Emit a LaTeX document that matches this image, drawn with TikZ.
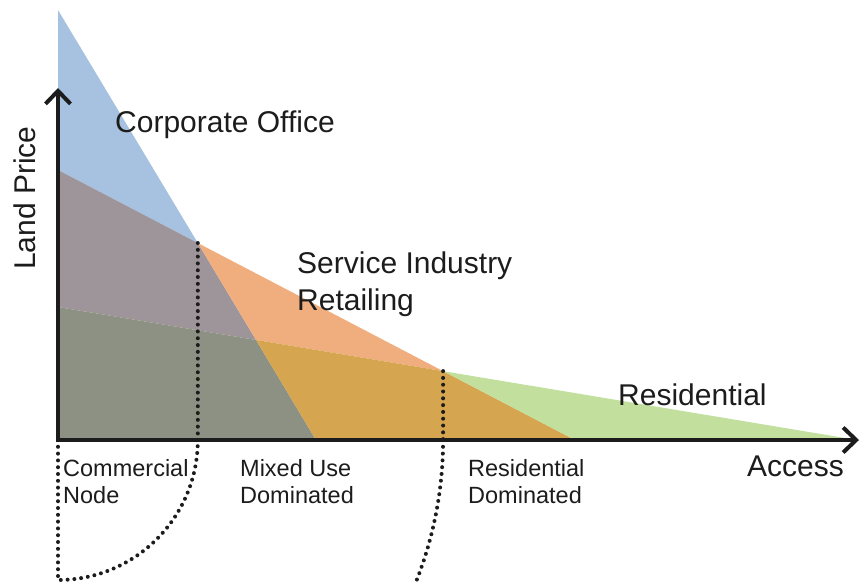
\documentclass[tikz,border=0pt]{standalone}
\usepackage{fontspec}
\setmainfont{Liberation Sans}
\usetikzlibrary{arrows.meta}

% fill colours of the three bid-rent curves and of their overlaps
\definecolor{office}{HTML}{A7C1E1}
\definecolor{service}{HTML}{F0AE7E}
\definecolor{resid}{HTML}{C3DF9D}
\definecolor{officeservice}{HTML}{9D9599}
\definecolor{serviceresid}{HTML}{D5A54F}
\definecolor{allthree}{HTML}{8D9183}
\definecolor{ink}{HTML}{1C1C1C}

\begin{document}
\begin{tikzpicture}[x=1pt, y=-1pt,
  axis/.style={draw=ink, line width=4pt, line join=miter,
    {Straight Barb[length=13pt,width=25pt]}-{Straight Barb[length=13pt,width=25pt]}},
  dots/.style={draw=ink, line width=4pt, line cap=round, dash pattern=on 0pt off 6.8pt},
  biglabel/.style={inner sep=0pt, anchor=base west, text=ink, font=\fontsize{30}{36}\selectfont},
  smalllabel/.style={inner sep=0pt, anchor=base west, text=ink, font=\fontsize{23.5}{27}\selectfont}]

\useasboundingbox (0,0) rectangle (861,584);

% origin, axis tips and the ends of the three curves
\coordinate (origin) at (58,440);
\coordinate (ytip) at (58,88);
\coordinate (xtip) at (859,440);
\coordinate (office top) at (58,10);
\coordinate (office foot) at (316,440);
\coordinate (service top) at (58,170);
\coordinate (service foot) at (575,440);
\coordinate (resid top) at (58,307);
\coordinate (resid foot) at (857,440);

% crossing points of the curves
\coordinate (p1) at (intersection of office top--office foot and service top--service foot);
\coordinate (p2) at (intersection of service top--service foot and resid top--resid foot);
\coordinate (q) at (intersection of office top--office foot and resid top--resid foot);

% regions between the curves
\fill[office] (office top) -- (p1) -- (service top) -- cycle;
\fill[officeservice] (service top) -- (p1) -- (q) -- (resid top) -- cycle;
\fill[allthree] (resid top) -- (q) -- (office foot) -- (origin) -- cycle;
\fill[service] (p1) -- (p2) -- (q) -- cycle;
\fill[serviceresid] (q) -- (p2) -- (service foot) -- (office foot) -- cycle;
\fill[resid] (p2) -- (resid foot) -- (service foot) -- cycle;

% zone boundaries
\coordinate (b1) at (p1 |- origin);
\coordinate (b2) at (p2 |- origin);
\coordinate (c1) at (58,580);
\draw[dots] (p1) -- (b1);
\draw[dots] (p2) -- (b2);
\draw[dots] (origin) -- (c1) arc[start angle=90, end angle=0, radius=139.8];
\draw[dots] (b2) arc[start angle=0, end angle=22, radius=385];

% axes
\draw[axis] (ytip) -- (origin) -- (xtip);

% labels
\node[biglabel] (corp) at (115,132) {Corporate Office};
\node[biglabel] (serv1) at (297,273) {Service Industry};
\node[biglabel] (serv2) at (297,310) {Retailing};
\node[biglabel] (res) at (618,405) {Residential};
\node[biglabel] (access) at (747,476) {Access};
\node[biglabel, anchor=base, rotate=90] (price) at (35,198) {Land Price};

\node[smalllabel] (cn1) at (63,476) {Commercial};
\node[smalllabel] (cn2) at (63,503) {Node};
\node[smalllabel] (mu1) at (240,476) {Mixed Use};
\node[smalllabel] (mu2) at (240,503) {Dominated};
\node[smalllabel] (rd1) at (468,476) {Residential};
\node[smalllabel] (rd2) at (468,503) {Dominated};
\end{tikzpicture}
\end{document}
